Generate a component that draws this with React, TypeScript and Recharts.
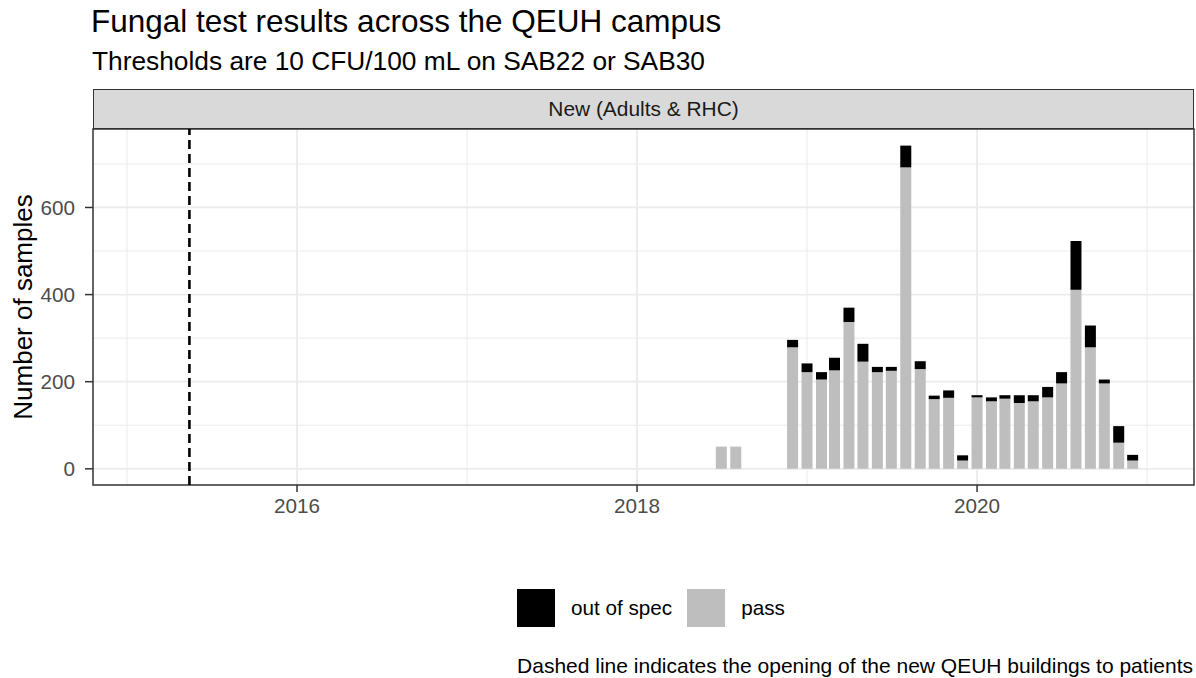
import React from "react"
import {
  ComposedChart,
  Bar,
  XAxis,
  YAxis,
  CartesianGrid,
  ReferenceLine,
  ReferenceArea,
} from "recharts"

// monthly sample counts, New (Adults & RHC)
const months = [
  "2018-07", "2018-08", "2018-12",
  "2019-01", "2019-02", "2019-03", "2019-04", "2019-05", "2019-06",
  "2019-07", "2019-08", "2019-09", "2019-10", "2019-11", "2019-12",
  "2020-01", "2020-02", "2020-03", "2020-04", "2020-05", "2020-06",
  "2020-07", "2020-08", "2020-09", "2020-10", "2020-11", "2020-12",
]
const passCounts = [
  51, 51, 279,
  222, 205, 226, 337, 246, 222,
  225, 692, 229, 160, 163, 19,
  164, 155, 161, 151, 155, 164,
  196, 411, 279, 196, 60, 19,
]
const outOfSpecCounts = [
  0, 0, 17,
  20, 17, 29, 33, 41, 12,
  9, 50, 18, 8, 17, 12,
  5, 9, 8, 18, 14, 24,
  26, 112, 50, 9, 38, 13,
]

const seriesNames = ["out of spec", "pass"]
const seriesColors = ["#000000", "#BEBEBE"]

const yTicks = [0, 200, 400, 600]
const yMinorTicks = [100, 300, 500, 700]
const xTicks = [2016, 2018, 2020]
const xMinorTicks = [2015, 2017, 2019, 2021]

const qeuhOpening = "2015-05-15"

const xDomain = [2014.8, 2021.276]
const yDomain = [-37.15, 780.15]

const font = "'Liberation Sans', Arial, Helvetica, sans-serif"

// date string -> decimal year
const toYear = (s: string) => {
  const [y, m, d] = s.split("-").map(Number)
  const start = Date.UTC(y, 0, 1)
  const end = Date.UTC(y + 1, 0, 1)
  const t = Date.UTC(y, (m || 1) - 1, d || 1)
  return y + (t - start) / (end - start)
}

const data = months.map((m, i) => ({
  t: toYear(m),
  pass: passCounts[i],
  oos: outOfSpecCounts[i],
}))

const App = () => {
  return (
    <div
      style={{
        position: "absolute",
        left: 0,
        top: 0,
        width: 1196,
        height: 678,
        background: "#fff",
        fontFamily: font,
      }}
    >
      <div style={{ position: "absolute", left: 91, top: 6, fontSize: 31.5, lineHeight: "31.5px", color: "#000", whiteSpace: "nowrap" }}>
        Fungal test results across the QEUH campus
      </div>
      <div style={{ position: "absolute", left: 92, top: 48, fontSize: 26.3, lineHeight: "26.3px", color: "#000", whiteSpace: "nowrap" }}>
        Thresholds are 10 CFU/100 mL on SAB22 or SAB30
      </div>

      {/* facet strip */}
      <div
        style={{
          position: "absolute",
          left: 93,
          top: 89,
          width: 1101,
          height: 40,
          boxSizing: "border-box",
          background: "#D9D9D9",
          border: "1.5px solid #333333",
          display: "flex",
          alignItems: "center",
          justifyContent: "center",
          fontSize: 20.9,
          color: "#1A1A1A",
        }}
      >
        New (Adults &amp; RHC)
      </div>

      <ComposedChart
        width={1196}
        height={678}
        data={data}
        margin={{ top: 129, right: 2, bottom: 163, left: 0 }}
        style={{ position: "absolute", left: 0, top: 0 }}
      >
        <CartesianGrid
          horizontalValues={yMinorTicks}
          verticalValues={xMinorTicks}
          stroke="#EBEBEB"
          strokeWidth={1}
        />
        <CartesianGrid
          horizontalValues={yTicks}
          verticalValues={xTicks}
          stroke="#EBEBEB"
          strokeWidth={1.8}
        />
        <XAxis
          type="number"
          dataKey="t"
          domain={xDomain}
          allowDataOverflow
          ticks={xTicks}
          interval={0}
          height={30}
          axisLine={false}
          tickSize={7}
          tickMargin={6}
          tickLine={{ stroke: "#333333", strokeWidth: 1.5 }}
          tick={{ fill: "#4D4D4D", fontSize: 20.7, fontFamily: font }}
        />
        <YAxis
          type="number"
          domain={yDomain}
          allowDataOverflow
          ticks={yTicks}
          interval={0}
          width={93}
          axisLine={false}
          tickSize={8}
          tickMargin={10}
          tickLine={{ stroke: "#333333", strokeWidth: 1.5 }}
          tick={{ fill: "#4D4D4D", fontSize: 20.7, fontFamily: font }}
        />
        <Bar
          dataKey="pass"
          stackId="a"
          fill={seriesColors[1]}
          barSize={11}
          isAnimationActive={false}
        />
        <Bar
          dataKey="oos"
          stackId="a"
          fill={seriesColors[0]}
          barSize={11}
          isAnimationActive={false}
        />
        <ReferenceLine
          x={toYear(qeuhOpening)}
          stroke="#000000"
          strokeWidth={2.6}
          strokeDasharray="9 5"
        />
        <ReferenceArea
          x1={xDomain[0]}
          x2={xDomain[1]}
          y1={yDomain[0]}
          y2={yDomain[1]}
          fill="none"
          stroke="#333333"
          strokeWidth={1.5}
          ifOverflow="visible"
        />
      </ComposedChart>

      {/* y axis title */}
      <div
        style={{
          position: "absolute",
          left: 23,
          top: 307,
          transform: "translate(-50%, -50%) rotate(-90deg)",
          fontSize: 26,
          lineHeight: "26px",
          whiteSpace: "nowrap",
          color: "#000",
        }}
      >
        Number of samples
      </div>

      {/* legend */}
      <div
        style={{
          position: "absolute",
          left: 517,
          top: 589,
          height: 38,
          display: "flex",
          alignItems: "center",
          fontSize: 20.7,
          color: "#000",
          whiteSpace: "nowrap",
        }}
      >
        {seriesNames.map((n, i) => (
          <div key={n} style={{ display: "flex", alignItems: "center", marginRight: 15 }}>
            <div style={{ width: 38, height: 38, background: seriesColors[i] }} />
            <span style={{ marginLeft: 16 }}>{n}</span>
          </div>
        ))}
      </div>

      {/* caption */}
      <div
        style={{
          position: "absolute",
          right: 3,
          top: 655,
          fontSize: 21,
          lineHeight: "21px",
          color: "#000",
          whiteSpace: "nowrap",
        }}
      >
        Dashed line indicates the opening of the new QEUH buildings to patients
      </div>
    </div>
  )
}

export default App
